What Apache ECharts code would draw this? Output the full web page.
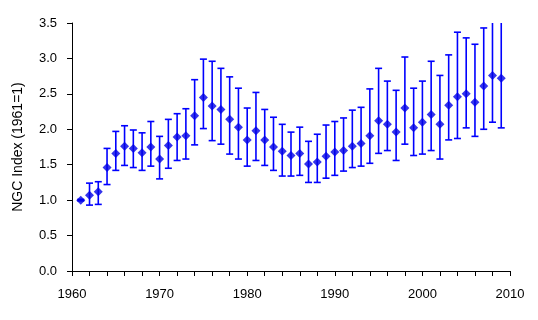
<!DOCTYPE html>
<html>
<head>
<meta charset="utf-8">
<script src="https://cdn.jsdelivr.net/npm/echarts@6/dist/echarts.min.js"></script>
<style>
  html, body { margin: 0; padding: 0; background: #fff; }
  #chart { width: 538px; height: 320px; }
</style>
</head>
<body>
<div id="chart"></div>
<script>
const years = [1961, 1962, 1963, 1964, 1965, 1966, 1967, 1968, 1969, 1970,
  1971, 1972, 1973, 1974, 1975, 1976, 1977, 1978, 1979, 1980,
  1981, 1982, 1983, 1984, 1985, 1986, 1987, 1988, 1989, 1990,
  1991, 1992, 1993, 1994, 1995, 1996, 1997, 1998, 1999, 2000,
  2001, 2002, 2003, 2004, 2005, 2006, 2007, 2008, 2009]
const index = [1.00, 1.07, 1.12, 1.46, 1.66, 1.76, 1.73, 1.67, 1.75, 1.58,
  1.77, 1.89, 1.91, 2.19, 2.45, 2.33, 2.28, 2.14, 2.03, 1.85,
  1.98, 1.85, 1.75, 1.69, 1.63, 1.66, 1.51, 1.54, 1.62, 1.68,
  1.70, 1.76, 1.80, 1.91, 2.12, 2.07, 1.96, 2.30, 2.02, 2.10,
  2.21, 2.07, 2.34, 2.46, 2.50, 2.38, 2.61, 2.76, 2.72]
const lower = [0.99, 0.93, 0.94, 1.22, 1.42, 1.49, 1.46, 1.42, 1.48, 1.30,
  1.45, 1.56, 1.58, 1.78, 2.01, 1.84, 1.79, 1.65, 1.58, 1.48,
  1.56, 1.49, 1.42, 1.34, 1.34, 1.35, 1.25, 1.25, 1.31, 1.35,
  1.41, 1.46, 1.48, 1.52, 1.66, 1.70, 1.56, 1.79, 1.63, 1.65,
  1.70, 1.58, 1.85, 1.87, 2.02, 1.90, 2.00, 2.10, 2.02]
const upper = [1.01, 1.24, 1.26, 1.73, 1.97, 2.05, 1.99, 1.95, 2.11, 1.90,
  2.14, 2.22, 2.29, 2.70, 2.99, 2.96, 2.86, 2.74, 2.58, 2.30,
  2.52, 2.28, 2.17, 2.07, 1.96, 2.03, 1.83, 1.93, 2.06, 2.11,
  2.16, 2.27, 2.31, 2.57, 2.86, 2.68, 2.55, 3.02, 2.58, 2.68,
  2.96, 2.76, 3.05, 3.37, 3.29, 3.20, 3.43, 3.60, 3.60]

const yMax = 3.5
const blue = '#0000ff'
const textStyle = { color: '#000', fontFamily: 'Liberation Sans, Arial, sans-serif', fontSize: 13 }

const chart = echarts.init(document.getElementById('chart'), null, { renderer: 'canvas' })

chart.setOption({
  backgroundColor: '#fff',
  animation: false,
  grid: { left: 72, right: 28, top: 23, bottom: 49 },
  xAxis: {
    type: 'value',
    min: 1960,
    max: 2010,
    interval: 2,
    splitLine: { show: false },
    axisLine: { onZero: false, lineStyle: { color: '#000', width: 1 } },
    axisTick: { length: 5, lineStyle: { color: '#000' } },
    axisLabel: {
      ...textStyle,
      margin: 17,
      formatter: v => (v % 10 === 0 ? String(v) : '')
    }
  },
  yAxis: {
    type: 'value',
    min: 0,
    max: yMax,
    interval: 0.5,
    name: 'NGC Index (1961=1)',
    nameLocation: 'middle',
    nameGap: 47,
    nameTextStyle: { ...textStyle, fontSize: 14 },
    splitLine: { show: false },
    axisLine: { show: true, lineStyle: { color: '#000', width: 1 } },
    axisTick: { show: true, length: 5, lineStyle: { color: '#000' } },
    axisLabel: {
      ...textStyle,
      margin: 15,
      formatter: v => v.toFixed(1)
    }
  },
  series: [
    {
      type: 'custom',
      clip: false,
      data: years.map((y, i) => [y, lower[i], upper[i]]),
      renderItem: (params, api) => {
        const x = api.value(0)
        const lo = api.value(1)
        const hi = api.value(2)
        const clipped = hi > yMax
        const pLo = api.coord([x, lo])
        const pHi = api.coord([x, Math.min(hi, yMax)])
        const half = 3.5
        const style = { stroke: blue, lineWidth: 1.6 }
        const children = [
          { type: 'line', shape: { x1: pLo[0], y1: pLo[1], x2: pHi[0], y2: pHi[1] }, style },
          { type: 'line', shape: { x1: pLo[0] - half, y1: pLo[1], x2: pLo[0] + half, y2: pLo[1] }, style }
        ]
        if (!clipped) {
          children.push({ type: 'line', shape: { x1: pHi[0] - half, y1: pHi[1], x2: pHi[0] + half, y2: pHi[1] }, style })
        }
        return { type: 'group', children }
      },
      z: 2
    },
    {
      type: 'scatter',
      data: years.map((y, i) => [y, index[i]]),
      symbol: 'diamond',
      symbolSize: [9, 9],
      itemStyle: { color: '#0000e6' },
      z: 3
    }
  ]
})
</script>
</body>
</html>
